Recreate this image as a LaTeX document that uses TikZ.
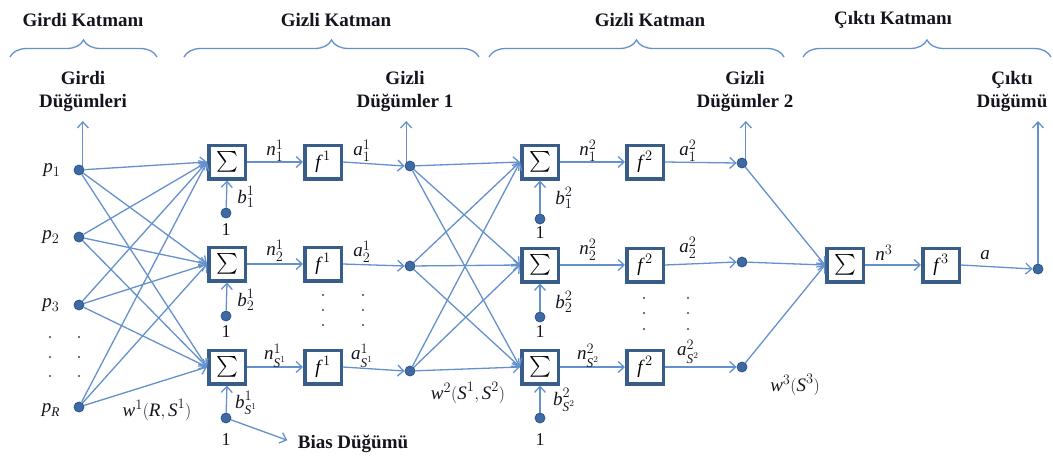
\documentclass[tikz,border=0pt]{standalone}
\usepackage{fontspec}
\usepackage{amsmath}
\setmainfont{Liberation Serif}
\usetikzlibrary{arrows.meta,decorations.pathreplacing,calc}

\definecolor{wire}{RGB}{100,145,205}
\definecolor{dotfill}{RGB}{62,106,163}
\definecolor{dotline}{RGB}{45,85,140}
\definecolor{boxline}{RGB}{56,93,138}
\definecolor{ink}{RGB}{20,20,30}

\newcommand\itx[1]{\textit{#1}}
\newcommand\sigmasym{{\fontsize{22}{22}\selectfont$\textstyle\sum$}}
\newcommand\actfn[1]{{\fontsize{19}{20}\selectfont$\itx{f}^{\,#1}$}}

\tikzset{
  wireline/.style={draw=wire, line width=1.3pt},
  arr/.style={wireline, -{Straight Barb[length=6pt,width=11pt]}},
  neuron/.style={circle, fill=dotfill, draw=dotline, line width=0.8pt, inner sep=0pt, minimum size=10pt},
  opbox/.style={draw=boxline, line width=3.5pt, fill=white, minimum width=36.5pt, minimum height=33.5pt, inner sep=0pt},
  lbl/.style={font=\fontsize{19}{23}\selectfont\bfseries, align=center, text=ink, inner sep=0pt},
  mlab/.style={font=\fontsize{19}{20}\selectfont, text=ink, inner sep=0pt},
  onelab/.style={font=\fontsize{18}{20}\selectfont, text=ink, inner sep=0pt},
  layerbrace/.style={wireline, decorate, decoration={brace, amplitude=17pt}},
  vdot/.style={fill=ink!80},
}

\begin{document}
\begin{tikzpicture}[x=1pt, y=-1pt]
\useasboundingbox (0,0) rectangle (1053,456);

% ---- layer titles and braces
\node[lbl] (t1) at (83,20)  {Girdi Katmanı};
\node[lbl] (t2) at (336,20) {Gizli Katman};
\node[lbl] (t3) at (650,20) {Gizli Katman};
\node[lbl] (t4) at (893,20) {Çıktı Katmanı};
\draw[layerbrace] (10,57)  -- (157,57);
\draw[layerbrace] (184,57) -- (479,57);
\draw[layerbrace] (489,57) -- (784,57);
\draw[layerbrace] (803,57) -- (1051,57);

% ---- node group labels
\node[lbl] (lin)  at (83,91)   {Girdi\\Düğümleri};
\node[lbl] (lh1)  at (405,91)  {Gizli\\Düğümler 1};
\node[lbl] (lh2)  at (745,91)  {Gizli\\Düğümler 2};
\node[lbl] (lout) at (1012,91) {Çıktı\\Düğümü};
\coordinate (top) at (0,121);

% ---- input nodes
\node[neuron] (p1) at (79,170) {};
\node[neuron] (p2) at (79,237) {};
\node[neuron] (p3) at (79,305) {};
\node[neuron] (pR) at (79,407) {};
\node[mlab] (lp1) at (52,170) {$\itx{p}_{1}$};
\node[mlab] (lp2) at (51,237) {$\itx{p}_{2}$};
\node[mlab] (lp3) at (51,305) {$\itx{p}_{3}$};
\node[mlab] (lpR) at (51,410) {$\itx{p}_{\itx{R}}$};
\foreach \y in {337,357,376} {
  \fill[vdot] (50,\y) circle (1.2);
  \fill[vdot] (79,\y) circle (1.2);
}

% ---- first hidden layer
\foreach \i/\y in {1/162,2/264,3/367} {
  \node[opbox] (s1\i) at (227,\y) {\sigmasym};
  \node[opbox] (f1\i) at (323,\y) {\actfn{1}};
}
\node[neuron] (h11) at (410,166) {};
\node[neuron] (h12) at (410,266) {};
\node[neuron] (h13) at (410,371) {};
\node[neuron] (b11) at (226,213) {};
\node[neuron] (b12) at (226,316) {};
\node[neuron] (b13) at (226,418) {};

% ---- second hidden layer
\foreach \i/\y in {1/162,2/265,3/367} {
  \node[opbox] (s2\i) at (540,\y) {\sigmasym};
  \node[opbox] (f2\i) at (645,\y) {\actfn{2}};
}
\node[neuron] (h21) at (742,163) {};
\node[neuron] (h22) at (742,262) {};
\node[neuron] (h23) at (742,367) {};
\node[neuron] (b21) at (540,219) {};
\node[neuron] (b22) at (540,317) {};
\node[neuron] (b23) at (540,418) {};

% ---- output layer
\node[opbox] (so) at (845,265) {\sigmasym};
\node[opbox] (fo) at (941,265) {\actfn{3}};
\node[neuron] (out) at (1038,269) {};

% ---- vertical ellipses between rows
\foreach \y in {295,310,325} {
  \fill[vdot] (323,\y) circle (1.2);
  \fill[vdot] (363,\y) circle (1.2);
}
\foreach \y in {298,313,329} {
  \fill[vdot] (644,\y) circle (1.2);
  \fill[vdot] (688,\y) circle (1.2);
}

% ---- weights: inputs to first hidden layer
\foreach \p in {p1,p2,p3,pR}
  \foreach \j in {1,2,3}
    \draw[arr] (\p) -- (s1\j.west);
% ---- weights: first to second hidden layer
\foreach \h in {h11,h12,h13}
  \foreach \j in {1,2,3}
    \draw[arr] (\h) -- (s2\j.west);
% ---- weights: second hidden layer to output
\foreach \h in {h21,h22,h23}
  \draw[arr] (\h) -- (so.west);

% ---- sum -> activation -> node, bias inputs
\foreach \i in {1,2,3} {
  \draw[arr] (s1\i.east) -- (f1\i.west);
  \draw[arr] (f1\i.east) -- (h1\i.west);
  \draw[arr] (b1\i) -- (s1\i.south);
  \draw[arr] (s2\i.east) -- (f2\i.west);
  \draw[arr] (f2\i.east) -- (h2\i.west);
  \draw[arr] (b2\i) -- (s2\i.south);
}
\draw[arr] (so.east) -- (fo.west);
\draw[arr] (fo.east) -- (out.west);

% ---- pointers to the group labels
\draw[arr] (p1.north east) -- (p1.north east |- top);
\draw[arr] (h11.north west) -- (h11.north west |- top);
\draw[arr] (h21.north east) -- (h21.north east |- top);
\draw[arr] (out.north) -- (out.north |- top);

% ---- bias node label
\node[lbl] (bl) at (353,444) {Bias Düğümü};
\draw[arr, shorten >=11pt] (b13) -- (bl.west);

% ---- signal labels, first hidden layer
\node[mlab] (n11) at (275,151) {$\itx{n}^{1}_{1}$};
\node[mlab] (n12) at (275,251) {$\itx{n}^{1}_{2}$};
\node[mlab] (n13) at (275,356) {$\itx{n}^{1}_{\itx{S}^{\scriptscriptstyle 1}}$};
\node[mlab] (a11) at (362,151) {$\itx{a}^{1}_{1}$};
\node[mlab] (a12) at (362,252) {$\itx{a}^{1}_{2}$};
\node[mlab] (a13) at (362,356) {$\itx{a}^{1}_{\itx{S}^{\scriptscriptstyle 1}}$};
\node[mlab] (bb11) at (246,197) {$\itx{b}^{1}_{1}$};
\node[mlab] (bb12) at (246,300) {$\itx{b}^{1}_{2}$};
\node[mlab] (bb13) at (246,403) {$\itx{b}^{1}_{\itx{S}^{\scriptscriptstyle 1}}$};
\node[onelab] (o11) at (226,230) {1};
\node[onelab] (o12) at (226,332) {1};
\node[onelab] (o13) at (226,440) {1};

% ---- signal labels, second hidden layer
\node[mlab] (n21) at (588,151) {$\itx{n}^{2}_{1}$};
\node[mlab] (n22) at (588,250) {$\itx{n}^{2}_{2}$};
\node[mlab] (n23) at (588,356) {$\itx{n}^{2}_{\itx{S}^{\scriptscriptstyle 2}}$};
\node[mlab] (a21) at (688,151) {$\itx{a}^{2}_{1}$};
\node[mlab] (a22) at (688,248) {$\itx{a}^{2}_{2}$};
\node[mlab] (a23) at (688,352) {$\itx{a}^{2}_{\itx{S}^{\scriptscriptstyle 2}}$};
\node[mlab] (bb21) at (564,198) {$\itx{b}^{2}_{1}$};
\node[mlab] (bb22) at (564,302) {$\itx{b}^{2}_{2}$};
\node[mlab] (bb23) at (564,400) {$\itx{b}^{2}_{\itx{S}^{\scriptscriptstyle 2}}$};
\node[onelab] (o21) at (540,233) {1};
\node[onelab] (o22) at (540,332) {1};
\node[onelab] (o23) at (540,440) {1};

% ---- output signals and weight labels
\node[mlab] (n3) at (884,253) {$\itx{n}^{3}$};
\node[mlab] (la) at (985,255) {$\itx{a}$};
\node[mlab] (w1) at (157,410) {$\itx{w}^{1}(\itx{R},\itx{S}^{1})$};
\node[mlab] (w2) at (468,393) {$\itx{w}^{2}(\itx{S}^{1},\itx{S}^{2})$};
\node[mlab] (w3) at (795,385) {$\itx{w}^{3}(\itx{S}^{3})$};
\end{tikzpicture}
\end{document}
